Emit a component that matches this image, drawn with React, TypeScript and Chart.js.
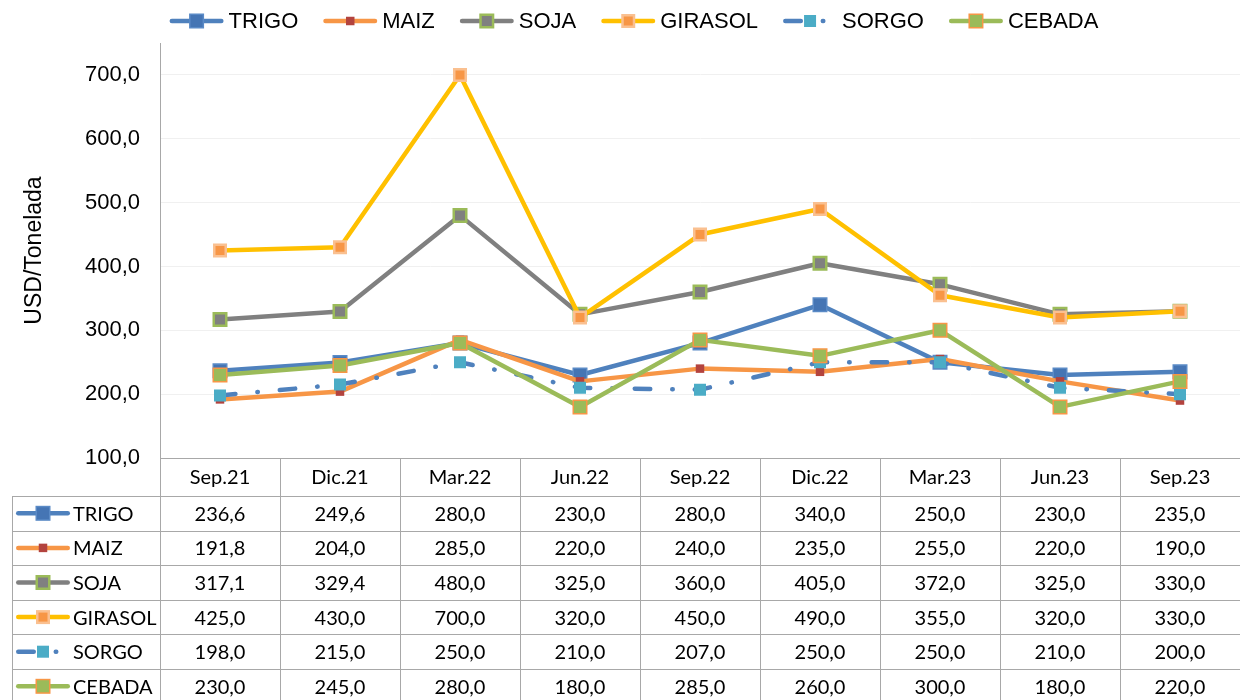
import React, { useEffect, useRef } from "react";
import { Chart, registerables } from "chart.js";

Chart.register(...registerables);

// ---- data ----
const categories = ["Sep.21", "Dic.21", "Mar.22", "Jun.22", "Sep.22", "Dic.22", "Mar.23", "Jun.23", "Sep.23"];
const seriesNames = ["TRIGO", "MAIZ", "SOJA", "GIRASOL", "SORGO", "CEBADA"];
const trigo = [236.6, 249.6, 280.0, 230.0, 280.0, 340.0, 250.0, 230.0, 235.0];
const maiz = [191.8, 204.0, 285.0, 220.0, 240.0, 235.0, 255.0, 220.0, 190.0];
const soja = [317.1, 329.4, 480.0, 325.0, 360.0, 405.0, 372.0, 325.0, 330.0];
const girasol = [425.0, 430.0, 700.0, 320.0, 450.0, 490.0, 355.0, 320.0, 330.0];
const sorgo = [198.0, 215.0, 250.0, 210.0, 207.0, 250.0, 250.0, 210.0, 200.0];
const cebada = [230.0, 245.0, 280.0, 180.0, 285.0, 260.0, 300.0, 180.0, 220.0];
const seriesValues = [trigo, maiz, soja, girasol, sorgo, cebada];
const yTickValues = [100, 200, 300, 400, 500, 600, 700];
const yTitle = "USD/Tonelada";

// ---- styles ----
type Style = { line: string; dash: number[]; fill: string; border: string; bw: number; side: number };
const styles: Style[] = [
  { line: "#4F81BD", dash: [], fill: "#4575b4", border: "#5a8ac6", bw: 1.5, side: 15 },
  { line: "#F79646", dash: [], fill: "#b3433e", border: "#b3433e", bw: 0, side: 8.5 },
  { line: "#808080", dash: [], fill: "#808080", border: "#9BBB59", bw: 2.5, side: 15 },
  { line: "#FFC000", dash: [], fill: "#F79646", border: "#FAC090", bw: 2.5, side: 14 },
  { line: "#4F81BD", dash: [15.5, 22, 0.5, 22], fill: "#4BACC6", border: "#4BACC6", bw: 0, side: 12 },
  { line: "#9BBB59", dash: [], fill: "#9BBB59", border: "#F79646", bw: 1.5, side: 15 },
];
const LINE_W = 4.5;
const AXIS_FONT = '"Liberation Sans", Arial, sans-serif';
const TABLE_FONT = 'Lato, "Noto Sans", sans-serif';
const GRID_COLOR = "#a8a8a8";

const fmt = (v: number) => v.toFixed(1).replace(".", ",");

function drawKey(ctx: CanvasRenderingContext2D, s: Style, x: number, y: number) {
  const w = 54;
  ctx.save();
  ctx.strokeStyle = s.line;
  ctx.lineWidth = LINE_W;
  ctx.lineCap = "round";
  ctx.setLineDash(s.dash);
  ctx.beginPath();
  ctx.moveTo(x + LINE_W / 2, y);
  ctx.lineTo(x + w - LINE_W / 2, y);
  ctx.stroke();
  ctx.setLineDash([]);
  const inner = s.side - s.bw;
  const cx = x + w / 2;
  ctx.fillStyle = s.fill;
  ctx.fillRect(cx - inner / 2, y - inner / 2, inner, inner);
  if (s.bw > 0) {
    ctx.lineWidth = s.bw;
    ctx.strokeStyle = s.border;
    ctx.strokeRect(cx - inner / 2, y - inner / 2, inner, inner);
  }
  ctx.restore();
}

const legendPlugin = {
  id: "topLegend",
  afterDraw(chart: any) {
    const ctx: CanvasRenderingContext2D = chart.ctx;
    ctx.save();
    ctx.font = `22px ${AXIS_FONT}`;
    ctx.fillStyle = "#000";
    ctx.textBaseline = "middle";
    const keyW = 54, textGap = 5, gap = 25;
    const widths = seriesNames.map((n) => ctx.measureText(n).width);
    const total = widths.reduce((a, w) => a + keyW + textGap + w, 0) + gap * (seriesNames.length - 1);
    let x = chart.width / 2 + 14 - total / 2;
    const y = 21;
    seriesNames.forEach((name, i) => {
      drawKey(ctx, styles[i], x, y);
      ctx.fillText(name, x + keyW + textGap, y + 1);
      x += keyW + textGap + widths[i] + gap;
    });
    ctx.restore();
  },
};

const tablePlugin = {
  id: "dataTable",
  afterDraw(chart: any) {
    const ctx: CanvasRenderingContext2D = chart.ctx;
    const area = chart.chartArea;
    const xs = chart.scales.x;
    const n = categories.length;
    const colW = xs.getPixelForValue(1) - xs.getPixelForValue(0);
    const top = area.bottom;
    const headH = 38;
    const rowH = 34.6;
    const leftX = 12;
    const rows = seriesNames.length;
    const bottom = top + headH + rowH * rows;
    const px = (v: number) => Math.round(v) + 0.5;

    ctx.save();
    ctx.strokeStyle = GRID_COLOR;
    ctx.lineWidth = 1;
    ctx.beginPath();
    ctx.moveTo(area.left, px(top));
    ctx.lineTo(area.right, px(top));
    for (let r = 0; r <= rows; r++) {
      const yy = px(top + headH + r * rowH);
      ctx.moveTo(leftX, yy);
      ctx.lineTo(area.right, yy);
    }
    ctx.moveTo(px(leftX), px(top + headH));
    ctx.lineTo(px(leftX), bottom);
    ctx.moveTo(px(area.left), px(top));
    ctx.lineTo(px(area.left), bottom);
    for (let i = 0; i < n; i++) {
      const xx = px(xs.getPixelForValue(i) + colW / 2);
      ctx.moveTo(xx, px(top));
      ctx.lineTo(xx, bottom);
    }
    ctx.stroke();

    ctx.fillStyle = "#000";
    ctx.font = `20px ${TABLE_FONT}`;
    ctx.textAlign = "center";
    ctx.textBaseline = "middle";
    categories.forEach((c, i) => {
      ctx.fillText(c, xs.getPixelForValue(i), top + headH / 2 + 1);
    });
    seriesValues.forEach((vals, r) => {
      const cy = top + headH + r * rowH + rowH / 2 + 1;
      vals.forEach((v, i) => {
        ctx.fillText(fmt(v), xs.getPixelForValue(i), cy);
      });
    });
    ctx.textAlign = "left";
    seriesNames.forEach((name, r) => {
      const cy = top + headH + r * rowH + rowH / 2;
      drawKey(ctx, styles[r], leftX + 4, cy);
      ctx.fillText(name, leftX + 61, cy + 1);
    });
    ctx.restore();
  },
};

export default function App() {
  const ref = useRef<HTMLCanvasElement | null>(null);
  useEffect(() => {
    if (!ref.current) return;
    const n = seriesNames.length;
    const chart = new Chart(ref.current, {
      type: "line",
      data: {
        labels: categories,
        datasets: seriesNames.map((name, i) => {
          const s = styles[i];
          const r = (s.side - s.bw) / Math.SQRT2;
          return {
            label: name,
            data: seriesValues[i],
            order: n - 1 - i,
            borderColor: s.line,
            backgroundColor: s.fill,
            borderWidth: LINE_W,
            borderDash: s.dash,
            borderCapStyle: "round" as const,
            borderJoinStyle: "round" as const,
            pointStyle: "rect" as const,
            pointRadius: r,
            pointHoverRadius: r,
            pointBackgroundColor: s.fill,
            pointBorderColor: s.border,
            pointBorderWidth: s.bw,
            tension: 0,
            fill: false,
          };
        }),
      },
      options: {
        responsive: false,
        animation: false,
        devicePixelRatio: 1,
        layout: { autoPadding: false, padding: { top: 43, bottom: 242, left: 0, right: 0 } },
        plugins: {
          legend: { display: false },
          tooltip: { enabled: false },
        },
        scales: {
          x: {
            type: "category",
            display: false,
            offset: true,
          },
          y: {
            min: 100,
            max: 750,
            afterBuildTicks: (scale: any) => {
              scale.ticks = yTickValues.map((v) => ({ value: v }));
            },
            afterFit: (scale: any) => {
              scale.width = 160;
            },
            grid: { color: "#f0f0f0", lineWidth: 1, drawTicks: false },
            border: { color: GRID_COLOR, width: 1 },
            ticks: {
              padding: 20,
              color: "#000",
              font: { family: AXIS_FONT, size: 22 },
              callback: (v: any) => fmt(Number(v)),
            },
            title: {
              display: true,
              text: yTitle,
              color: "#000",
              font: { family: AXIS_FONT, size: 23 },
              padding: { top: 21, bottom: 0 },
            },
          },
        },
      },
      plugins: [legendPlugin, tablePlugin],
    });
    return () => chart.destroy();
  }, []);
  return (
    <div style={{ position: "absolute", left: 0, top: 0, width: 1240, height: 700, background: "#fff" }}>
      <canvas ref={ref} width={1240} height={700} style={{ display: "block" }} />
    </div>
  );
}
